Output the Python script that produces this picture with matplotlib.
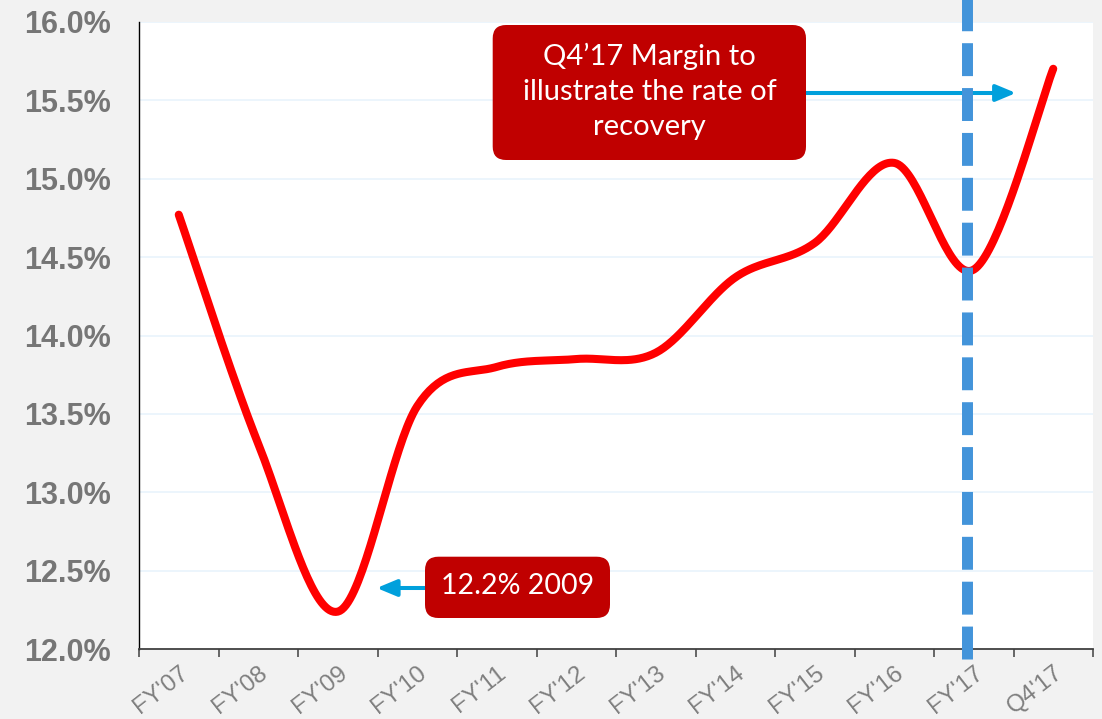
import numpy as np
import matplotlib
matplotlib.use("Agg")
import matplotlib.pyplot as plt
from matplotlib.patches import FancyBboxPatch
from matplotlib.transforms import blended_transform_factory
from matplotlib.ticker import FixedLocator, FuncFormatter

# ---- data ----
categories = ["FY'07", "FY'08", "FY'09", "FY'10", "FY'11", "FY'12",
              "FY'13", "FY'14", "FY'15", "FY'16", "FY'17", "Q4'17"]
margin_pct = [14.77, 13.31, 12.24, 13.55, 13.80, 13.85,
              13.89, 14.37, 14.59, 15.10, 14.42, 15.70]
y_ticks = [12.0, 12.5, 13.0, 13.5, 14.0, 14.5, 15.0, 15.5, 16.0]
marker_line_pos = 9.91          # dashed vertical marker, category units
note_low = "12.2% 2009"
note_high = "Q4\u201917 Margin to\nillustrate the rate of\nrecovery"

# ---- smoothing (Excel-like Catmull-Rom bezier) ----
def smooth(xs, ys, n=40):
    p = np.column_stack([xs, ys]).astype(float)
    out = []
    m = len(p)
    for i in range(m - 1):
        p0 = p[i - 1] if i > 0 else p[i]
        p1 = p[i]
        p2 = p[i + 1]
        p3 = p[i + 2] if i + 2 < m else p[i + 1]
        c1 = p1 + (p2 - p0) / 6.0
        c2 = p2 - (p3 - p1) / 6.0
        t = np.linspace(0, 1, n)[:, None]
        seg = ((1 - t) ** 3) * p1 + 3 * ((1 - t) ** 2) * t * c1 + 3 * (1 - t) * t ** 2 * c2 + t ** 3 * p2
        out.append(seg if i == 0 else seg[1:])
    s = np.vstack(out)
    return s[:, 0], s[:, 1]

W, H, DPI = 1102, 719, 100
fig = plt.figure(figsize=(W / DPI, H / DPI), dpi=DPI)
fig.patch.set_facecolor("#F2F2F2")
ax = fig.add_axes([139 / W, 1 - 649.3 / H, 954 / W, 627.6 / H])
ax.set_facecolor("white")

x = np.arange(len(categories))
sx, sy = smooth(x, margin_pct)
ax.plot(sx, sy, color="#FF0000", lw=5.8, solid_capstyle="round", zorder=3)

ax.set_xlim(-0.5, len(categories) - 0.5)
ax.set_ylim(y_ticks[0], y_ticks[-1])

# grid
ax.set_yticks(y_ticks)
ax.yaxis.set_major_formatter(FuncFormatter(lambda v, p: f"{v:.1f}%"))
for v in y_ticks[1:]:
    ax.axhline(v, color="#EAF5FC", lw=1.3, zorder=1)

# spines
for s in ["top", "right"]:
    ax.spines[s].set_visible(False)
ax.spines["left"].set_color("black")
ax.spines["left"].set_linewidth(1.0)
ax.spines["bottom"].set_color("#404040")
ax.spines["bottom"].set_linewidth(1.3)

ax.tick_params(axis="y", length=0, pad=20.5, labelsize=22, labelcolor="#767676")
for lab in ax.get_yticklabels():
    lab.set_fontfamily("Liberation Sans")
    lab.set_fontweight("bold")

# x: major ticks at boundaries, labels at centers (minor)
ax.xaxis.set_major_locator(FixedLocator(np.arange(len(categories) + 1) - 0.5))
ax.xaxis.set_minor_locator(FixedLocator(x))
ax.set_xticklabels([], minor=False)
ax.set_xticklabels(categories, minor=True, rotation=38, ha="right",
                   va="top", rotation_mode="anchor",
                   fontfamily="Liberation Sans", fontsize=17.5, color="#7F7F7F")
ax.tick_params(axis="x", which="major", length=5.8, width=1.1, color="#404040")
ax.tick_params(axis="x", which="minor", length=0, pad=9)

# dashed vertical marker (extends beyond top of axes)
tr = blended_transform_factory(ax.transData, ax.transAxes)
ax.plot([marker_line_pos, marker_line_pos], [-0.0155, 1.04], transform=tr,
        color="#4394DA", lw=7.9, dashes=(3.0, 1.09), dash_capstyle="butt",
        clip_on=False, zorder=5)

# annotation boxes
def box(x0, y0, x1, y1):
    p = FancyBboxPatch((x0, y0), x1 - x0, y1 - y0,
                       boxstyle="round,pad=0,rounding_size=0.014",
                       mutation_aspect=954 / 627.6,
                       transform=ax.transAxes, facecolor="#C00000",
                       edgecolor="none", zorder=6, clip_on=False)
    ax.add_patch(p)

ax_x = lambda px: (px - 139) / 954
ax_y = lambda py: (649.3 - py) / 627.6

box(ax_x(425), ax_y(618), ax_x(610), ax_y(556.7))
ax.text(ax_x(517.5), ax_y(586), note_low, transform=ax.transAxes,
        ha="center", va="center", color="white", fontsize=20.5,
        fontfamily="Lato", zorder=7)
ax.annotate("", xy=(ax_x(376.7), ax_y(588)), xytext=(ax_x(425), ax_y(588)),
            xycoords="axes fraction", textcoords="axes fraction",
            arrowprops=dict(arrowstyle="-|>,head_length=12,head_width=5",
                            mutation_scale=1, color="#00A0DC", lw=2.9,
                            shrinkA=0, shrinkB=0), zorder=4)

box(ax_x(492.7), ax_y(160), ax_x(806), ax_y(25))
ax.text(ax_x(649.4), ax_y(91), note_high, transform=ax.transAxes,
        ha="center", va="center", color="white", fontsize=21,
        fontfamily="Lato", linespacing=1.43, zorder=7)
ax.annotate("", xy=(ax_x(1016), ax_y(93)), xytext=(ax_x(806), ax_y(93)),
            xycoords="axes fraction", textcoords="axes fraction",
            arrowprops=dict(arrowstyle="-|>,head_length=12,head_width=5",
                            mutation_scale=1, color="#00A0DC", lw=2.9,
                            shrinkA=0, shrinkB=0), zorder=4)

fig.savefig("out.png", dpi=DPI, facecolor=fig.get_facecolor())
